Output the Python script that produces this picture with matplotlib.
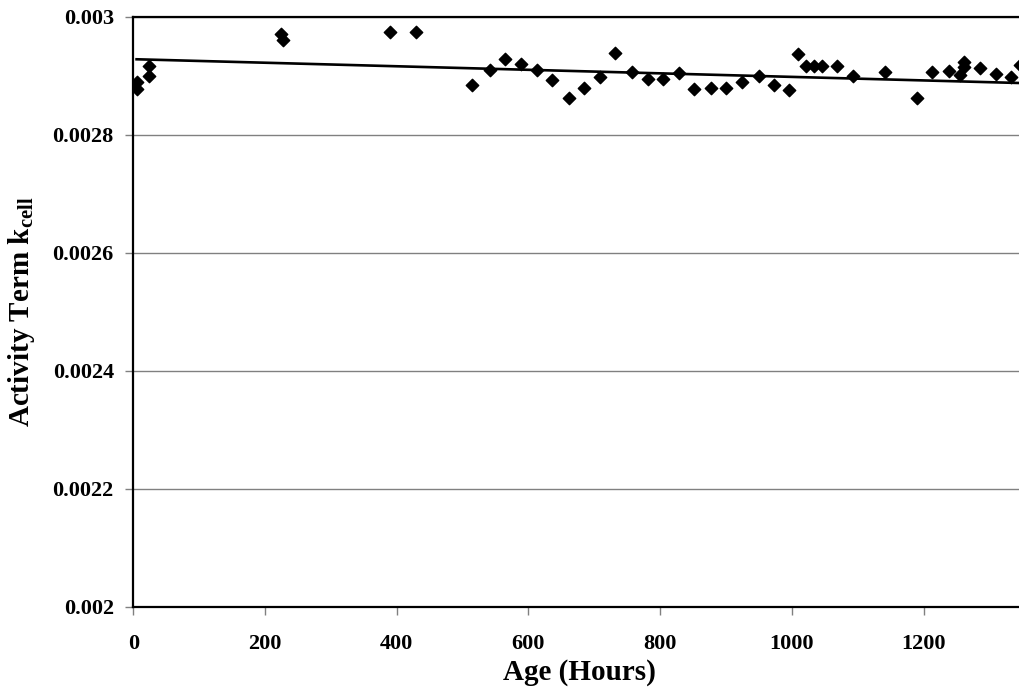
import numpy as np
import matplotlib.pyplot as plt

# data
age = [5, 6, 24, 24, 224, 227, 390, 430, 515, 541, 564, 589, 613, 636, 661,
       684, 709, 732, 757, 781, 805, 829, 852, 877, 900, 925, 950, 973, 995,
       1009, 1022, 1034, 1046, 1069, 1093, 1141, 1190, 1213, 1238, 1255,
       1262, 1262, 1286, 1310, 1333, 1346]
kcell = [0.002877, 0.002889, 0.002899, 0.002916, 0.002970, 0.002961,
         0.002974, 0.002974, 0.002884, 0.002909, 0.002928, 0.002920,
         0.002909, 0.002892, 0.002863, 0.002879, 0.002898, 0.002938,
         0.002906, 0.002894, 0.002894, 0.002905, 0.002877, 0.002879,
         0.002879, 0.002889, 0.002900, 0.002884, 0.002875, 0.002936,
         0.002917, 0.002917, 0.002916, 0.002916, 0.002899, 0.002906,
         0.002863, 0.002907, 0.002908, 0.002902, 0.002915, 0.002924,
         0.002913, 0.002903, 0.002897, 0.002918]

# linear trendline as shown in the chart
trend_intercept = 0.002928
trend_slope = -3.0e-8
trend_range = [5, 1345]

yticks = [0.002, 0.0022, 0.0024, 0.0026, 0.0028, 0.003]
ylabels = ['0.002', '0.0022', '0.0024', '0.0026', '0.0028', '0.003']
xticks = [0, 200, 400, 600, 800, 1000, 1200]

plt.rcParams['font.family'] = ['Liberation Serif', 'DejaVu Serif']
plt.rcParams['font.weight'] = 'bold'
plt.rcParams['mathtext.fontset'] = 'custom'
plt.rcParams['mathtext.rm'] = 'Liberation Serif:bold'
plt.rcParams['mathtext.bf'] = 'Liberation Serif:bold'

fig = plt.figure(figsize=(10.19, 6.93), dpi=100)
ax = fig.add_axes([0.1308, 0.1245, 0.8692, 0.8514])

ax.scatter(age, kcell, marker='D', s=40, color='black', zorder=3)

xs = np.array(trend_range)
ax.plot(xs, trend_intercept + trend_slope * xs, color='black', lw=1.9, zorder=2)

ax.set_xlim(0, 1345)
ax.set_ylim(0.002, 0.003)
ax.set_yticks(yticks)
ax.set_yticklabels(ylabels)
ax.set_xticks(xticks)
ax.yaxis.grid(True, color='#808080', lw=1)
ax.set_axisbelow(True)

for s in ['left', 'bottom', 'top']:
    ax.spines[s].set_linewidth(1.6)
    ax.spines[s].set_color('black')
ax.spines['right'].set_visible(False)

ax.tick_params(axis='both', direction='out', length=6, width=1,
               color='#808080', labelsize=16)
ax.tick_params(axis='x', pad=14)
ax.tick_params(axis='y', pad=8)
for lab in ax.get_xticklabels() + ax.get_yticklabels():
    lab.set_fontweight('bold')

ax.set_xlabel('Age (Hours)', fontsize=21, fontweight='bold')
ax.xaxis.set_label_coords(0.504, -0.088)
ax.set_ylabel(r'Activity Term k$_{\mathrm{cell}}$', fontsize=21,
              fontweight='bold')
ax.yaxis.set_label_coords(-0.109, 0.5)

fig.savefig('out.png', dpi=100)
